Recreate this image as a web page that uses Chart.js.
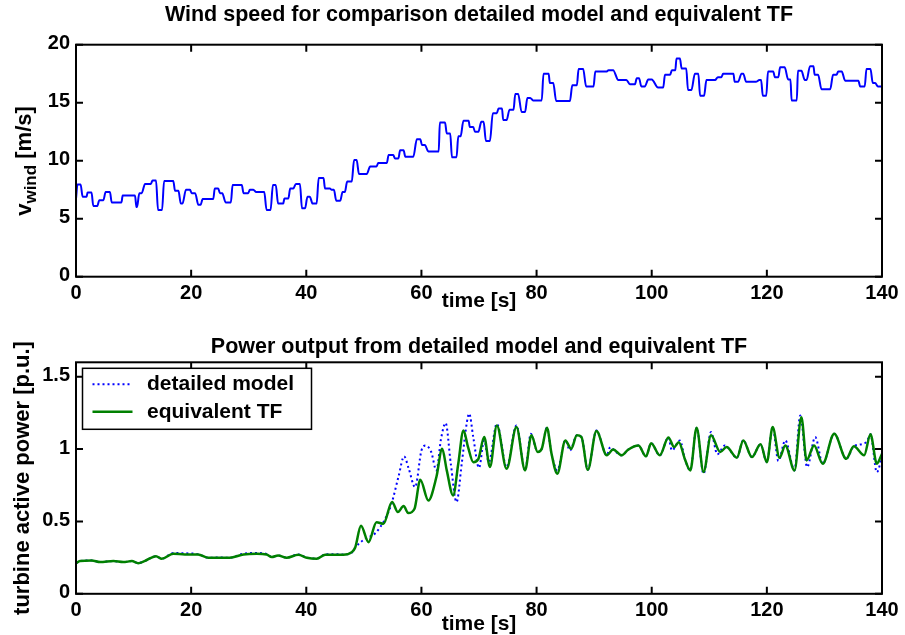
<!DOCTYPE html>
<html>
<head>
<meta charset="utf-8">
<title>Wind speed and power output</title>
<script src="https://cdn.jsdelivr.net/npm/chart.js@4.4.1/dist/chart.umd.min.js"></script>
<style>
  html, body { margin: 0; padding: 0; background: #fff; overflow: hidden; }
  body { width: 905px; height: 635px; position: relative; font-family: "Liberation Sans", Arial, sans-serif; }
  canvas { position: absolute; left: 0; }
  #windChart { top: 0; }
  #powerChart { top: 320px; }
  .ylabel { position: absolute; font-weight: bold; font-size: 22px; line-height: 26px; height: 26px;
            white-space: nowrap; text-align: center; transform: rotate(-90deg); color: #000; }
  .ylabel sub { font-size: 17px; vertical-align: -5px; line-height: 0; }
</style>
</head>
<body>
<canvas id="windChart" width="905" height="320"></canvas>
<canvas id="powerChart" width="905" height="330"></canvas>
<div class="ylabel" style="left: -76px; top: 148px; width: 200px;">v<sub>wind</sub> [m/s]</div>
<div class="ylabel" style="left: -128px; top: 465px; width: 300px;">turbine active power [p.u.]</div>
<script>
// wind speed: start [s], end [s], speed [m/s]
const stepStart = [0, 0.25, 1.15, 2.0, 3.0, 4.05, 5.15, 6.2, 8.1, 10.5, 11.0, 12.0, 13.3, 14.25, 15.3, 17.2, 18.2, 19.1, 20.1, 21.25,
  22.0, 24.1, 25.0, 26.0, 27.2, 29.1, 30.2, 31.3, 33.1, 34.2, 35.1, 36.2, 37.2, 38.2, 39.25, 40.2, 41.1, 42.15, 43.25, 44.4,
  45.2, 46.3, 47.1, 48.3, 49.15, 51.1, 52.5, 54.3, 55.4, 56.3, 57.2, 59.2, 60.1, 61.2, 63.2, 64.4, 65.3, 66.4, 67.3, 68.4,
  69.3, 70.4, 71.2, 72.4, 73.4, 74.2, 75.3, 76.3, 77.4, 78.4, 79.4, 81.2, 82.3, 83.4, 86.2, 87.3, 88.6, 90.2, 92.5, 94.2,
  96.2, 97.4, 98.2, 99.4, 101.1, 102.3, 103.5, 104.3, 105.2, 106.3, 107.5, 108.4, 109.5, 111.5, 112.4, 114.4, 115.6, 116.4, 118.7, 119.3,
  120.2, 121.4, 122.3, 123.7, 124.3, 125.4, 126.6, 127.5, 128.3, 129.5, 131.5, 132.4, 133.6, 136.2, 137.3, 138.4, 139.3];
const stepEnd = [0, 0.8, 1.85, 2.7, 3.7, 4.75, 5.9, 7.9, 10.25, 10.6, 11.4, 13.0, 13.9, 14.95, 16.9, 17.8, 18.5, 19.8, 20.7, 21.65,
  23.85, 24.7, 25.4, 26.9, 28.8, 29.9, 30.8, 32.7, 33.8, 34.7, 36.0, 36.9, 37.75, 38.9, 39.8, 40.6, 41.8, 43.0, 44.1, 44.8,
  45.9, 46.7, 47.9, 48.75, 50.5, 52.2, 54.0, 55.1, 56.0, 56.9, 58.6, 59.8, 60.6, 63.0, 64.1, 65.0, 66.1, 66.8, 68.2, 69.0,
  69.9, 70.8, 71.9, 73.1, 74.0, 74.8, 76.0, 76.8, 78.0, 78.9, 80.9, 82.1, 82.9, 85.8, 87.0, 88.1, 89.9, 92.2, 93.3, 95.6,
  97.1, 97.8, 98.8, 100.0, 102.0, 103.2, 104.1, 104.9, 106.0, 106.9, 108.1, 109.1, 111.0, 112.1, 114.2, 115.0, 115.9, 118.1, 119.0, 119.9,
  121.1, 122.0, 123.1, 124.1, 125.2, 126.0, 126.9, 128.1, 128.9, 131.0, 132.1, 133.0, 135.9, 137.0, 138.0, 138.8, 140.0];
const stepSpeed = [6.7, 7.95, 6.9, 7.25, 6.1, 6.6, 7.3, 6.4, 7.0, 6.0, 7.2, 8.0, 8.3, 5.75, 8.25, 7.4, 6.3, 7.5, 7.2, 6.2,
  6.7, 7.6, 7.2, 6.4, 7.9, 7.2, 7.5, 7.3, 5.75, 7.9, 6.3, 6.75, 7.6, 8.0, 5.9, 6.9, 6.3, 8.5, 7.6, 7.5,
  6.55, 7.3, 8.2, 10.05, 8.85, 9.5, 9.8, 10.5, 10.2, 10.9, 10.35, 11.85, 11.35, 10.8, 13.3, 12.35, 10.3, 12.1, 13.45, 12.9,
  12.5, 13.35, 11.7, 14.1, 14.5, 13.5, 14.4, 15.75, 14.2, 15.4, 15.2, 17.5, 16.7, 15.15, 16.5, 17.9, 16.4, 17.7, 17.8, 16.95,
  16.6, 17.1, 16.4, 17.0, 16.3, 17.4, 17.8, 18.8, 17.95, 16.1, 17.5, 15.6, 16.95, 17.2, 17.5, 16.8, 17.5, 16.8, 16.95, 15.6,
  17.7, 17.2, 18.05, 17.0, 15.2, 17.75, 16.95, 18.15, 17.4, 16.15, 17.4, 17.7, 16.9, 16.4, 17.9, 16.7, 16.4];

// power output [p.u.] - equivalent TF
const tfTime = [0, 0.7, 2.7, 4.2, 6.5, 8.2, 9.7, 10.8, 11.9, 13.9, 14.9, 16.9, 18.9, 21.2, 23.0, 24.7, 26.7, 29.1, 31.4, 33.1,
  34.0, 35.1, 36.6, 38.6, 40.1, 41.8, 43.3, 45.2, 46.4, 47.9, 48.5, 49.5, 50.8, 52.2, 53.4, 54.9, 55.9, 56.9, 57.7, 58.8,
  59.8, 61.2, 62.6, 63.6, 64.4, 65.5, 66.4, 67.3, 68.1, 69.0, 69.9, 70.9, 71.9, 73.1, 74.8, 76.5, 78.0, 79.1, 80.2, 80.9,
  81.8, 82.6, 83.6, 85.0, 86.0, 87.0, 87.8, 88.9, 90.4, 92.2, 93.3, 94.8, 95.9, 97.7, 99.0, 99.9, 101.4, 102.9, 103.9, 104.7,
  105.8, 106.7, 107.8, 109.0, 110.3, 111.9, 113.0, 114.8, 115.9, 117.4, 118.9, 120.0, 121.0, 122.2, 123.2, 124.8, 126.0, 126.9, 128.2, 129.7,
  131.7, 133.8, 135.1, 136.9, 138.0, 139.1, 140];
const tfPower = [0.212, 0.226, 0.23, 0.219, 0.226, 0.219, 0.226, 0.212, 0.226, 0.26, 0.242, 0.277, 0.272, 0.272, 0.249, 0.249, 0.249, 0.272, 0.277, 0.272,
  0.254, 0.265, 0.249, 0.27, 0.249, 0.242, 0.27, 0.27, 0.27, 0.288, 0.32, 0.47, 0.357, 0.495, 0.484, 0.634, 0.565, 0.606, 0.558, 0.588,
  0.788, 0.645, 0.807, 1.002, 0.853, 0.68, 0.899, 1.129, 1.014, 0.91, 0.933, 1.083, 0.876, 1.164, 0.864, 1.152, 0.853, 1.095, 0.98, 1.002,
  1.148, 0.968, 0.83, 1.06, 1.002, 1.095, 1.083, 0.857, 1.125, 0.957, 0.998, 0.957, 0.996, 1.025, 0.95, 1.04, 0.957, 1.08, 1.014, 1.048,
  0.926, 0.853, 1.148, 0.841, 1.095, 0.98, 1.014, 0.941, 1.06, 0.945, 1.033, 0.91, 1.152, 0.941, 1.025, 0.853, 1.22, 0.922, 1.025, 0.899,
  1.106, 0.933, 1.019, 0.957, 1.102, 0.899, 0.968];

// power output [p.u.] - detailed model
const detTime = [0, 0.7, 2.7, 4.2, 6.5, 8.2, 9.7, 10.8, 11.9, 13.9, 14.9, 16.9, 18.9, 21.2, 23.0, 24.7, 26.7, 29.1, 31.4, 33.1,
  34.0, 35.1, 36.6, 38.6, 40.1, 41.8, 43.3, 45.2, 46.4, 47.9, 48.5, 50.2, 51.9, 53.7, 54.8, 56.0, 57.0, 57.8, 58.9, 60.0,
  60.7, 61.7, 62.6, 63.4, 64.2, 65.1, 66.1, 67.0, 67.9, 68.3, 69.0, 70.0, 70.9, 71.7, 73.1, 74.8, 76.5, 78.0, 79.0, 80.2,
  80.9, 81.8, 82.6, 83.6, 85.0, 85.8, 87.0, 87.8, 88.9, 90.4, 92.2, 92.8, 93.3, 94.8, 95.9, 97.7, 99.0, 99.9, 101.4, 102.9,
  103.5, 104.9, 105.8, 106.7, 107.8, 109.0, 110.3, 111.4, 112.7, 114.8, 115.9, 117.4, 118.9, 120.0, 121.0, 122.0, 123.2, 124.8, 125.8, 127.0,
  128.4, 129.7, 131.7, 133.8, 135.1, 137.3, 138.0, 139.1, 140];
const detPower = [0.212, 0.226, 0.23, 0.219, 0.226, 0.219, 0.226, 0.212, 0.226, 0.26, 0.242, 0.282, 0.28, 0.274, 0.249, 0.251, 0.249, 0.278, 0.282, 0.276,
  0.254, 0.265, 0.25, 0.272, 0.25, 0.244, 0.272, 0.274, 0.272, 0.285, 0.32, 0.38, 0.415, 0.518, 0.622, 0.807, 0.95, 0.864, 0.737, 0.99,
  1.025, 0.98, 0.853, 1.07, 1.18, 0.899, 0.634, 0.899, 1.187, 1.245, 1.083, 0.871, 1.06, 0.91, 1.175, 0.876, 1.164, 0.853, 1.106, 0.98,
  1.002, 1.148, 0.968, 0.853, 1.06, 0.99, 1.095, 1.083, 0.857, 1.129, 0.957, 1.014, 0.998, 0.957, 0.996, 1.025, 0.95, 1.04, 0.957, 1.08,
  0.991, 1.06, 0.926, 0.853, 1.148, 0.83, 1.118, 0.964, 1.025, 0.941, 1.06, 0.945, 1.033, 0.91, 1.152, 0.918, 1.06, 0.853, 1.233, 0.876,
  1.083, 0.899, 1.106, 0.933, 1.019, 1.048, 1.102, 0.841, 0.945];

const timeTicks = [0, 20, 40, 60, 80, 100, 120, 140];
const windTicks = [0, 5, 10, 15, 20];
const powerTicks = [0, 0.5, 1, 1.5];
const seriesNames = ['detailed model', 'equivalent TF'];

const FONT = '"Liberation Sans", Arial, Helvetica, sans-serif';
Chart.defaults.font.family = FONT;
Chart.defaults.font.weight = 'bold';
Chart.defaults.font.size = 20;
Chart.defaults.color = '#000';

// box round the axes with inward ticks, like the original plot
const boxTicks = {
  id: 'boxTicks',
  afterDatasetsDraw(chart) {
    const {ctx, chartArea: a, scales: {x, y}} = chart;
    const len = 7;
    ctx.save();
    ctx.strokeStyle = '#000';
    ctx.lineWidth = 2;
    ctx.beginPath();
    x.ticks.forEach(t => {
      const px = x.getPixelForValue(t.value);
      ctx.moveTo(px, a.bottom); ctx.lineTo(px, a.bottom - len);
      ctx.moveTo(px, a.top); ctx.lineTo(px, a.top + len);
    });
    y.ticks.forEach(t => {
      const py = y.getPixelForValue(t.value);
      ctx.moveTo(a.left, py); ctx.lineTo(a.left + len, py);
      ctx.moveTo(a.right, py); ctx.lineTo(a.right - len, py);
    });
    ctx.stroke();
    ctx.strokeRect(a.left, a.top, a.right - a.left, a.bottom - a.top);
    ctx.restore();
  }
};

// legend box in the upper left corner of the power plot
const boxLegend = {
  id: 'boxLegend',
  afterDraw(chart) {
    const {ctx, chartArea: a} = chart;
    const bx = a.left + 6.5, by = a.top + 6, bw = 229, bh = 61;
    ctx.save();
    ctx.fillStyle = '#fff';
    ctx.fillRect(bx, by, bw, bh);
    ctx.strokeStyle = '#000';
    ctx.lineWidth = 1.5;
    ctx.strokeRect(bx, by, bw, bh);
    chart.data.datasets.forEach((ds, i) => {
      const yy = by + 16 + i * 27.5;
      ctx.strokeStyle = ds.borderColor;
      ctx.lineWidth = ds.borderWidth;
      ctx.setLineDash(ds.borderDash || []);
      ctx.beginPath();
      ctx.moveTo(bx + 10, yy);
      ctx.lineTo(bx + 50, yy);
      ctx.stroke();
      ctx.setLineDash([]);
      ctx.fillStyle = '#000';
      ctx.font = 'bold 21px ' + FONT;
      ctx.textBaseline = 'middle';
      ctx.fillText(ds.label, bx + 64.5, yy);
    });
    ctx.restore();
  }
};

function points(xs, ys) {
  return xs.map((x, i) => ({x: x, y: ys[i]}));
}

const windPoints = [];
stepStart.forEach((t0, i) => {
  windPoints.push({x: t0, y: stepSpeed[i]});
  if (stepEnd[i] > t0) windPoints.push({x: stepEnd[i], y: stepSpeed[i]});
});

function timeAxis(height, titlePad) {
  return {
    type: 'linear', min: 0, max: 140,
    afterBuildTicks: s => { s.ticks = timeTicks.map(v => ({value: v})); },
    afterFit: s => { s.height = height; },
    grid: {display: false, drawTicks: false},
    border: {display: false},
    ticks: {padding: 5, maxRotation: 0, autoSkip: false, font: {size: 20}},
    title: {display: true, text: 'time [s]', font: {size: 21}, padding: {top: 0, bottom: titlePad}}
  };
}

new Chart(document.getElementById('windChart'), {
  type: 'line',
  data: {
    datasets: [{
      label: 'v_wind',
      data: windPoints,
      borderColor: '#0000ff',
      borderWidth: 2,
      pointRadius: 0,
      cubicInterpolationMode: 'monotone'
    }]
  },
  options: {
    responsive: false,
    animation: false,
    layout: {padding: {left: 0, right: 23, top: 0, bottom: 0}},
    scales: {
      x: timeAxis(43.3, 6.4),
      y: {
        min: 0, max: 20,
        afterBuildTicks: s => { s.ticks = windTicks.map(v => ({value: v})); },
        afterFit: s => { s.width = 76; },
        grid: {display: false, drawTicks: false},
        border: {display: false},
        ticks: {padding: 6, labelOffset: -1, font: {size: 20}}
      }
    },
    plugins: {
      legend: {display: false},
      tooltip: {enabled: false},
      title: {
        display: true,
        fullSize: false,
        text: 'Wind speed for comparison detailed model and equivalent TF',
        font: {size: 21.5},
        padding: {top: 2, bottom: 16.9}
      }
    }
  },
  plugins: [boxTicks]
});

new Chart(document.getElementById('powerChart'), {
  type: 'line',
  data: {
    datasets: [{
      label: seriesNames[0],
      data: points(detTime, detPower),
      borderColor: '#0000ff',
      borderWidth: 2,
      borderDash: [2, 3],
      pointRadius: 0,
      cubicInterpolationMode: 'monotone',
      order: 1
    }, {
      label: seriesNames[1],
      data: points(tfTime, tfPower),
      borderColor: '#008000',
      borderWidth: 2.5,
      pointRadius: 0,
      cubicInterpolationMode: 'monotone',
      order: 0
    }]
  },
  options: {
    responsive: false,
    animation: false,
    layout: {padding: {left: 0, right: 23, top: 0, bottom: 0}},
    scales: {
      x: timeAxis(56.2, 13.4),
      y: {
        min: 0, max: 1.6,
        afterBuildTicks: s => { s.ticks = powerTicks.map(v => ({value: v})); },
        afterFit: s => { s.width = 76; },
        grid: {display: false, drawTicks: false},
        border: {display: false},
        ticks: {padding: 6, labelOffset: -1, font: {size: 20}, callback: v => String(v)}
      }
    },
    plugins: {
      legend: {display: false},
      tooltip: {enabled: false},
      title: {
        display: true,
        fullSize: false,
        text: 'Power output from detailed model and equivalent TF',
        font: {size: 21.5},
        padding: {top: 14.1, bottom: 2.4}
      }
    }
  },
  plugins: [boxTicks, boxLegend]
});
</script>
</body>
</html>
